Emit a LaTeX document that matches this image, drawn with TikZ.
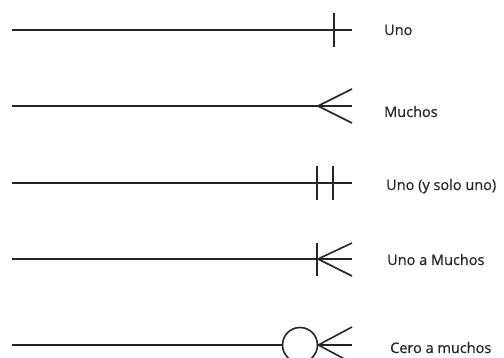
\documentclass[tikz,border=0pt]{standalone}
\usepackage{fontspec}
\setmainfont{Open Sans}
\newfontfamily\capfont[FakeBold=0.6]{Open Sans}
\usetikzlibrary{positioning}

\begin{document}
\begin{tikzpicture}[x=1pt, y=-1pt]
        % Define styles
        \tikzstyle{link} = [line width=1.6pt, draw=black!85]
        \tikzstyle{caption} = [anchor=base west, inner sep=0pt, text=black!85, font=\capfont\fontsize{14.5}{17}\selectfont]
        \tikzstyle{ring} = [circle, draw=black!85, line width=1.6pt, minimum size=35pt, inner sep=0pt]
        \useasboundingbox (0,0) rectangle (504,358);

        % Line ends
        \coordinate (s1) at (12,30);   \coordinate (e1) at (352,30);
        \coordinate (s2) at (12,106);  \coordinate (e2) at (352,106);
        \coordinate (s3) at (12,183);  \coordinate (e3) at (352,183);
        \coordinate (s4) at (12,259);  \coordinate (e4) at (352,259);
        \coordinate (s5) at (12,345);  \coordinate (e5) at (352,345);

        % Captions
        \node [caption] (uno) at (384,35) {Uno};
        \node [caption] (muchos) at (384,117) {Muchos};
        \node [caption] (unosolo) at (386,190) {Uno (y solo uno)};
        \node [caption] (unomuchos) at (387,265) {Uno a Muchos};
        \node [caption] (ceromuchos) at (390,353) {Cero a muchos};

        % Uno
        \draw [link] (s1) -- (e1);
        \draw [link] (334,13) -- (334,47);

        % Muchos
        \coordinate (v2) at (318,106);
        \draw [link] (s2) -- (e2);
        \draw [link] (352,89) -- (v2) -- (352,123);

        % Uno (y solo uno)
        \draw [link] (s3) -- (e3);
        \draw [link] (317,166) -- (317,200);
        \draw [link] (333,166) -- (333,200);

        % Uno a Muchos
        \coordinate (v4) at (318,259);
        \draw [link] (s4) -- (e4);
        \draw [link] (317,243) -- (317,276);
        \draw [link] (352,243) -- (v4) -- (352,276);

        % Cero a muchos
        \node [ring] (cero) at (300,345) {};
        \draw [link] (s5) -- (cero.west);
        \draw [link] (cero.east) -- (e5);
        \draw [link] (352,327) -- (cero.east) -- (352,363);
\end{tikzpicture}
\end{document}
